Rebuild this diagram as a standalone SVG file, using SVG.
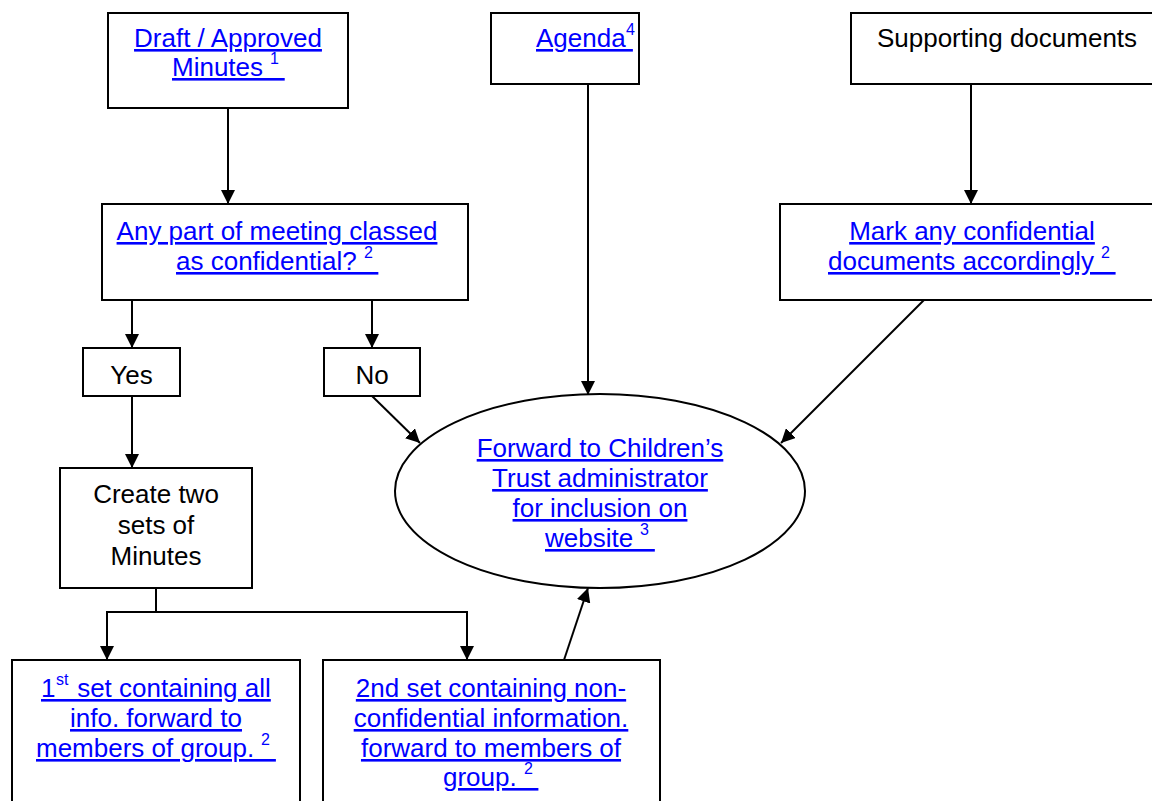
<svg xmlns="http://www.w3.org/2000/svg" width="1152" height="801" viewBox="0 0 1152 801">
<style>
  .box { fill: #fff; stroke: #000; stroke-width: 2; }
  .t { font-family: "Liberation Sans", Arial, Helvetica, sans-serif; font-size: 26px; text-anchor: middle; fill: #000; }
  .s { text-anchor: start; }
  .lk { fill: #0000ff; text-decoration: underline; }
  .sup { font-family: "Liberation Sans", Arial, Helvetica, sans-serif; font-size: 16px; fill: #0000ff; text-anchor: start; }
  .conn { fill: none; stroke: #000; stroke-width: 2; }
</style>
<defs>
  <marker id="arr" markerWidth="14" markerHeight="14" refX="14" refY="7" orient="auto" markerUnits="userSpaceOnUse">
    <path d="M0,0 L14,7 L0,14 Z" fill="#000"/>
  </marker>
</defs>
<rect width="1152" height="801" fill="#fff"/>

<g id="connectors">
  <line class="conn" x1="228" y1="108" x2="228" y2="204" marker-end="url(#arr)"/>
  <line class="conn" x1="588" y1="84" x2="588" y2="395" marker-end="url(#arr)"/>
  <line class="conn" x1="971" y1="84" x2="971" y2="204" marker-end="url(#arr)"/>
  <line class="conn" x1="132" y1="300" x2="132" y2="348" marker-end="url(#arr)"/>
  <line class="conn" x1="372" y1="300" x2="372" y2="348" marker-end="url(#arr)"/>
  <line class="conn" x1="132" y1="396" x2="132" y2="468" marker-end="url(#arr)"/>
  <line class="conn" x1="372" y1="396" x2="420" y2="443" marker-end="url(#arr)"/>
  <line class="conn" x1="924" y1="300" x2="781" y2="443" marker-end="url(#arr)"/>
  <polyline class="conn" points="156,588 156,612 107,612 107,660" marker-end="url(#arr)"/>
  <polyline class="conn" points="156,612 467,612 467,660" marker-end="url(#arr)"/>
  <line class="conn" x1="564" y1="660" x2="588" y2="588" marker-end="url(#arr)"/>
</g>

<g id="draft-minutes">
  <rect class="box" x="108" y="13" width="240" height="95"/>
  <text class="t lk" x="228" y="47">Draft / Approved</text>
  <text class="t s lk" x="172" y="76">Minutes&#160;&#160;&#160;</text>
  <text class="sup" x="270" y="64">1</text>
</g>

<g id="agenda">
  <rect class="box" x="491" y="13" width="148" height="71"/>
  <text class="t s lk" x="536" y="47">Agenda&#160;</text>
  <text class="sup" x="626" y="35">4</text>
</g>

<g id="supporting-documents">
  <rect class="box" x="851" y="13" width="320" height="71"/>
  <text class="t" x="1007" y="47">Supporting documents</text>
</g>

<g id="confidential-question">
  <rect class="box" x="102" y="204" width="366" height="96"/>
  <text class="t lk" x="277" y="240">Any part of meeting classed</text>
  <text class="t s lk" x="176" y="270">as confidential?&#160;&#160;&#160;</text>
  <text class="sup" x="364" y="258">2</text>
</g>

<g id="mark-confidential">
  <rect class="box" x="780" y="204" width="390" height="96"/>
  <text class="t lk" x="972" y="240">Mark any confidential</text>
  <text class="t s lk" x="828" y="270">documents accordingly&#160;&#160;&#160;</text>
  <text class="sup" x="1101" y="258">2</text>
</g>

<g id="yes">
  <rect class="box" x="83" y="348" width="97" height="48"/>
  <text class="t" x="131.5" y="384">Yes</text>
</g>

<g id="no">
  <rect class="box" x="324" y="348" width="96" height="48"/>
  <text class="t" x="372" y="384">No</text>
</g>

<g id="forward-admin">
  <ellipse class="box" cx="600" cy="491" rx="205" ry="97"/>
  <text class="t lk" x="600" y="457">Forward to Children’s</text>
  <text class="t lk" x="600" y="487">Trust administrator</text>
  <text class="t lk" x="600" y="517">for inclusion on</text>
  <text class="t s lk" x="545" y="547">website&#160;&#160;&#160;</text>
  <text class="sup" x="640" y="535">3</text>
</g>

<g id="create-two-sets">
  <rect class="box" x="60" y="468" width="192" height="120"/>
  <text class="t" x="156" y="503">Create two</text>
  <text class="t" x="156" y="534">sets of</text>
  <text class="t" x="156" y="565">Minutes</text>
</g>

<g id="first-set">
  <rect class="box" x="12" y="660" width="288" height="160"/>
  <text class="t s lk" x="41" y="697">1&#160;&#160;&#160;set containing all</text>
  <text class="sup" x="56" y="685">st</text>
  <text class="t lk" x="156" y="727">info. forward to</text>
  <text class="t s lk" x="36" y="757">members of group.&#160;&#160;&#160;</text>
  <text class="sup" x="261" y="745">2</text>
</g>

<g id="second-set">
  <rect class="box" x="323" y="660" width="337" height="160"/>
  <text class="t lk" x="491" y="697">2nd set containing non-</text>
  <text class="t lk" x="491" y="727">confidential information.</text>
  <text class="t lk" x="491" y="757">forward to members of</text>
  <text class="t s lk" x="443" y="786">group.&#160;&#160;&#160;</text>
  <text class="sup" x="524" y="774">2</text>
</g>
</svg>
